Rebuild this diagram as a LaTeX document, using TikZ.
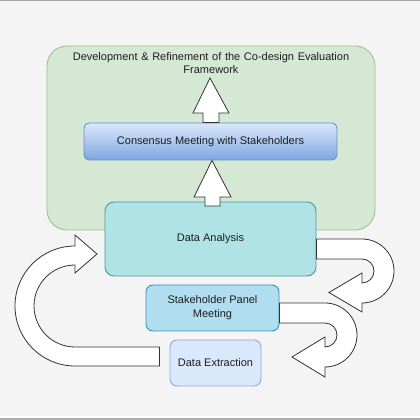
\documentclass[tikz,border=0pt]{standalone}
\usepackage{fontspec}
\setmainfont{Liberation Sans}
\usetikzlibrary{calc}
\definecolor{bgc}{HTML}{F4F4F4}
\definecolor{frameFill}{HTML}{D5E8D4}
\definecolor{frameDraw}{HTML}{9CC28C}
\definecolor{consTop}{HTML}{DAE8FC}
\definecolor{consBot}{HTML}{7EA6E0}
\definecolor{consDraw}{HTML}{6C8EBF}
\definecolor{daFill}{HTML}{B0E3E6}
\definecolor{daDraw}{HTML}{3E9CA2}
\definecolor{spmFill}{HTML}{B1DDF0}
\definecolor{spmDraw}{HTML}{3C8DB3}
\definecolor{deFill}{HTML}{DAE8FC}
\definecolor{deDraw}{HTML}{8FA9CF}
\definecolor{txt}{HTML}{1E1E1E}
\definecolor{arrDraw}{HTML}{333333}
\tikzset{
  box/.style={rectangle, line width=0.9pt, inner sep=2pt, align=center,
    text=txt, font=\fontsize{11}{14}\selectfont},
  blockarrow/.style={fill=white, draw=arrDraw, line width=0.8pt, line join=miter},
}
\begin{document}
\begin{tikzpicture}[x=1pt,y=1pt]
\useasboundingbox (0,0) rectangle (420,420);
\fill[bgc] (0,0) rectangle (420,420);
\fill[gray!70] (0,418.5) rectangle (420,420);
\fill[white] (0,2) rectangle (420,3.5);
\fill[gray!65] (0,0) rectangle (420,2);

% frame
\node[box, draw=frameDraw, fill=frameFill, rounded corners=20pt,
  minimum width=328pt, minimum height=184pt] (frame) at (211,282) {};
\node[box, text width=310pt, font=\fontsize{11}{13}\selectfont] (title) at (211,356.5)
  {Development \& Refinement of the Co-design Evaluation\\Framework};

% consensus
\node[box, draw=consDraw, top color=consTop, bottom color=consBot, rounded corners=5pt,
  minimum width=253pt, minimum height=37pt] (cons) at (210.5,278.5)
  {Consensus Meeting with Stakeholders};

% up arrow 1 (consensus -> title)
\draw[blockarrow] (203,0 |- cons.north) -- (203,307) -- (193,307) -- (210,342)
  -- (229,307) -- (219,307) -- (219,0 |- cons.north) -- cycle;

% data analysis
\node[box, draw=daDraw, fill=daFill, rounded corners=9pt,
  minimum width=211pt, minimum height=74pt] (da) at (210.5,181) {Data Analysis};

% up arrow 2 (data analysis -> consensus)
\draw[blockarrow] (205,214) -- (205,223) -- (194,223) -- (212,0 |- cons.south)
  -- (231,223) -- (220,223) -- (220,214) -- cycle;

% stakeholder panel
\node[box, draw=spmDraw, fill=spmFill, rounded corners=7pt,
  minimum width=133pt, minimum height=46pt] (spm) at (212.5,112)
  {Stakeholder Panel\\Meeting};

% data extraction
\node[box, draw=deDraw, fill=deFill, rounded corners=7pt,
  minimum width=91pt, minimum height=46pt] (de) at (215.5,57) {Data Extraction};

% right arrow 1 (from data analysis)
\draw[blockarrow] (da.east |- 0,181) -- (362,181) arc[start angle=90, end angle=-90, radius=32]
  -- (362,108) -- (329,127.5) -- (362,147) -- (362,137)
  arc[start angle=-90, end angle=90, radius=12] -- (da.east |- 0,161) -- cycle;

% right arrow 2 (from stakeholder panel)
\draw[blockarrow] (spm.east |- 0,117) -- (325,117) arc[start angle=90, end angle=-90, radius=32]
  -- (325,43) -- (292,63) -- (325,83) -- (325,73)
  arc[start angle=-90, end angle=90, radius=12] -- (spm.east |- 0,97) -- cycle;

% left arrow (from data extraction back to data analysis)
\coordinate (lstart) at ($(de.west)+(-10,0)$);
\draw[blockarrow] (lstart |- 0,54) -- (75,54) arc[start angle=-90, end angle=-270, radius=60]
  -- (75,185) -- (97,166) -- (75,147) -- (75,155)
  arc[start angle=90, end angle=270, radius=41] -- (lstart |- 0,73) -- cycle;
\end{tikzpicture}
\end{document}
